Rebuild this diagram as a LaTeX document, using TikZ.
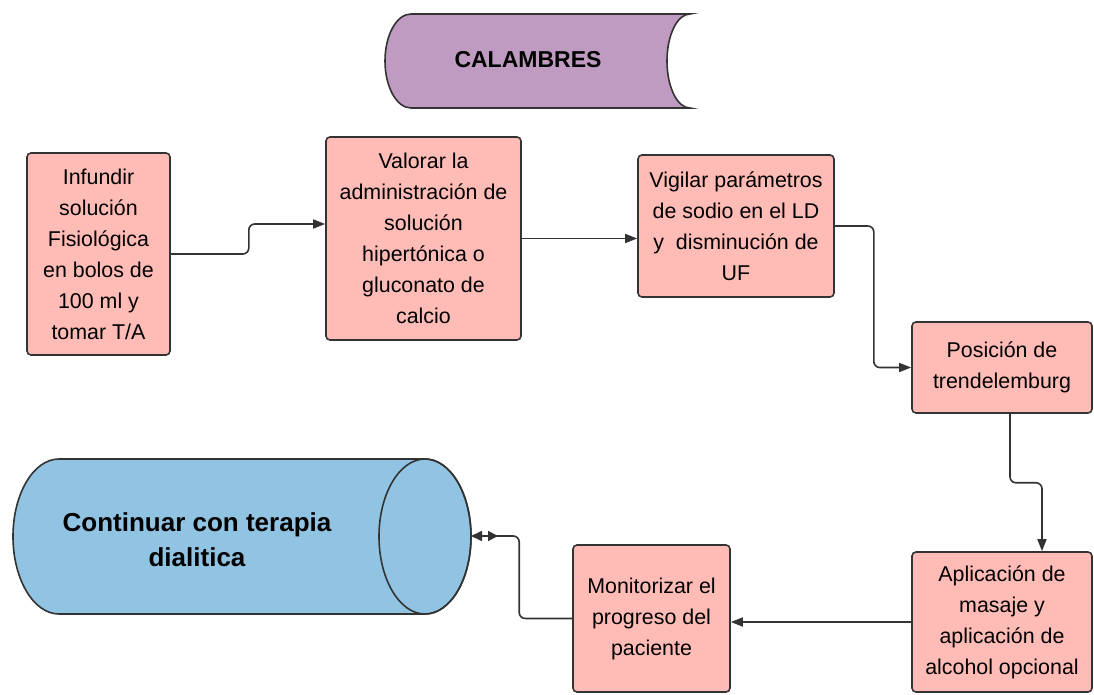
\documentclass[tikz,border=0pt]{standalone}
\usepackage{fontspec}
\setmainfont{Liberation Sans}
\usepackage{tikz}
\usetikzlibrary{arrows.meta}
\definecolor{boxfill}{RGB}{255,187,181}
\definecolor{lila}{RGB}{191,155,193}
\definecolor{celeste}{RGB}{145,196,226}
\definecolor{edge}{RGB}{51,51,51}

\begin{document}
\begin{tikzpicture}[x=0.5pt,y=0.5pt]
\tikzstyle{caja}=[draw=edge, fill=boxfill, line width=0.8pt, rounded corners=2pt, align=center, inner sep=0pt, font=\fontsize{10.7}{15.5}\selectfont]
\tikzstyle{flecha}=[edge, line width=0.8pt, rounded corners=3pt, -{Triangle[length=6pt,width=4.5pt]}]
\useasboundingbox (0,0) rectangle (1094,-695);
\draw [edge, fill=lila, line width=0.8pt] (411,-14) -- (690,-14) arc [start angle=90, end angle=270, x radius=23, y radius=47] -- (411,-108) arc [start angle=270, end angle=90, x radius=26, y radius=47] -- cycle;
\node (calambres) at (528,-60) {\fontsize{11.5}{14}\selectfont\bfseries CALAMBRES};
\node [caja, minimum width=71.5pt, minimum height=101pt] (infundir) at (98.5,-254) {Infundir\\solución\\Fisiológica\\en bolos de\\100 ml y\\tomar T/A};
\node [caja, minimum width=97.5pt, minimum height=101.5pt] (valorar) at (423.5,-238.5) {Valorar la\\administración de\\solución\\hipertónica o\\gluconato de\\calcio};
\node [caja, minimum width=98pt, minimum height=71pt] (vigilar) at (736,-226) {Vigilar parámetros\\de sodio en el LD\\y\ \ disminución de\\UF};
\node [caja, minimum width=90pt, minimum height=45.5pt] (posicion) at (1002,-367.5) {Posición de\\trendelemburg};
\node [caja, minimum width=90pt, minimum height=70pt] (aplicacion) at (1002,-622) {Aplicación de\\masaje y\\aplicación de\\alcohol opcional};
\node [caja, minimum width=78.5pt, minimum height=73.5pt] (monitorizar) at (651.5,-618.5) {Monitorizar el\\progreso del\\paciente};
\draw [edge, fill=celeste, line width=0.8pt] (425,-459) -- (59,-459) arc [start angle=90, end angle=270, x radius=46, y radius=77.5] -- (425,-614) arc [start angle=-90, end angle=90, x radius=46, y radius=77.5] -- cycle;
\draw [edge, line width=0.8pt] (425,-536.5) ellipse [x radius=46, y radius=77.5];
\node [align=center, font=\fontsize{13}{17.5}\selectfont\bfseries] (continuar) at (197,-540) {Continuar con terapia\\dialitica};
\coordinate (entrada) at (471,-536);
\draw [flecha] (infundir.east) -- ++(78,0) |- ([yshift=7.25pt]valorar.west);
\draw [flecha] (valorar.east) -- (valorar.east -| vigilar.west);
\draw [flecha] (vigilar.east) -- ++(39,0) |- (posicion.west);
\draw [flecha] ([xshift=4pt]posicion.south) -- ++(0,-69) -| ([xshift=20pt]aplicacion.north);
\draw [flecha] (aplicacion.west) -- (aplicacion.west -| monitorizar.east);
\draw [edge, line width=0.8pt, rounded corners=3pt, -{Triangle[reversed,length=5pt,width=5pt,sep=3pt]Triangle[length=5.5pt,width=5pt]}] (monitorizar.west) -- ++(-53,0) |- (entrada);
\end{tikzpicture}
\end{document}
